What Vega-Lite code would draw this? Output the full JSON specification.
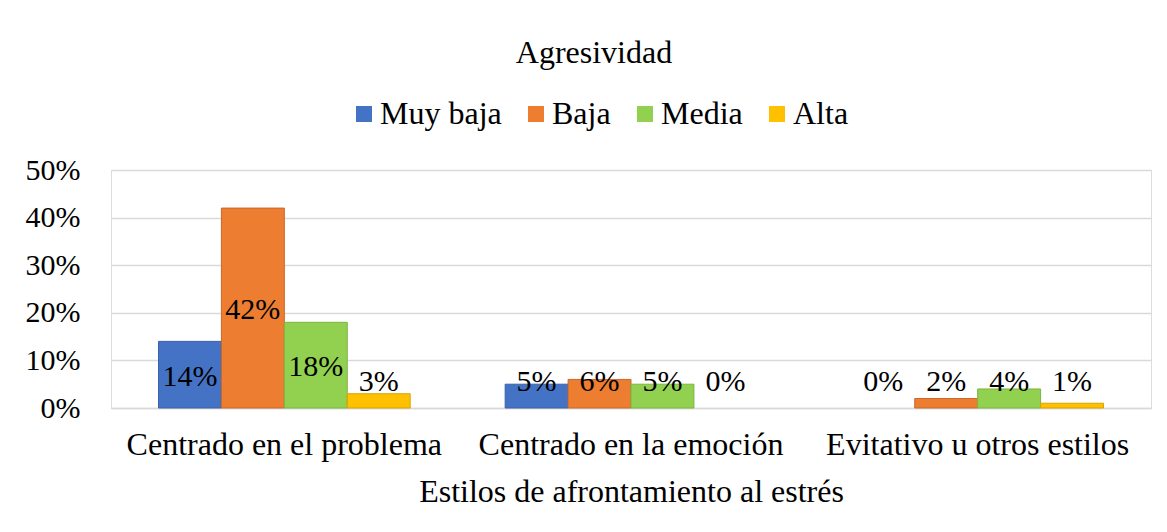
{
  "$schema": "https://vega.github.io/schema/vega-lite/v6.json",
  "width": 1040,
  "height": 238,
  "autosize": {"type": "none"},
  "padding": {"left": 111, "top": 170, "right": 16, "bottom": 124},
  "background": "white",
  "title": {
    "text": "Agresividad",
    "font": "Liberation Serif",
    "fontSize": 32,
    "fontWeight": "normal",
    "color": "#000000",
    "anchor": "middle",
    "frame": "group",
    "dx": -37,
    "offset": 28
  },
  "data": {
    "values": [
      {"estilo": "Centrado en el problema", "nivel": "Muy baja", "valor": 0.14},
      {"estilo": "Centrado en el problema", "nivel": "Baja", "valor": 0.42},
      {"estilo": "Centrado en el problema", "nivel": "Media", "valor": 0.18},
      {"estilo": "Centrado en el problema", "nivel": "Alta", "valor": 0.03},
      {"estilo": "Centrado en la emoción", "nivel": "Muy baja", "valor": 0.05},
      {"estilo": "Centrado en la emoción", "nivel": "Baja", "valor": 0.06},
      {"estilo": "Centrado en la emoción", "nivel": "Media", "valor": 0.05},
      {"estilo": "Centrado en la emoción", "nivel": "Alta", "valor": 0.0},
      {"estilo": "Evitativo u otros estilos", "nivel": "Muy baja", "valor": 0.0},
      {"estilo": "Evitativo u otros estilos", "nivel": "Baja", "valor": 0.02},
      {"estilo": "Evitativo u otros estilos", "nivel": "Media", "valor": 0.04},
      {"estilo": "Evitativo u otros estilos", "nivel": "Alta", "valor": 0.01}
    ]
  },
  "encoding": {
    "x": {
      "field": "estilo",
      "type": "nominal",
      "sort": null,
      "scale": {"paddingInner": 0.274, "paddingOuter": 0.137},
      "axis": {
        "title": "Estilos de afrontamiento al estrés",
        "labelAngle": 0,
        "labelLimit": 0,
        "labelFont": "Liberation Serif",
        "labelFontSize": 32,
        "labelColor": "#000000",
        "labelPadding": 21,
        "titleFont": "Liberation Serif",
        "titleFontSize": 32,
        "titleFontWeight": "normal",
        "titleColor": "#000000",
        "titlePadding": 16,
        "ticks": false,
        "domainColor": "#d9d9d9",
        "domainWidth": 1.5
      }
    },
    "xOffset": {"field": "nivel", "type": "nominal", "sort": ["Muy baja", "Baja", "Media", "Alta"]}
  },
  "layer": [
    {
      "mark": {"type": "bar", "strokeWidth": 1},
      "encoding": {
        "y": {
          "field": "valor",
          "type": "quantitative",
          "scale": {"domain": [0, 0.5], "nice": false},
          "axis": {
            "title": null,
            "format": ".0%",
            "values": [0, 0.1, 0.2, 0.3, 0.4, 0.5],
            "labelFont": "Liberation Serif",
            "labelFontSize": 30,
            "labelColor": "#000000",
            "labelPadding": 31,
            "labelOverlap": false,
            "ticks": false,
            "domain": false,
            "gridColor": "#d9d9d9",
            "gridWidth": 1.5
          }
        },
        "color": {
          "field": "nivel",
          "type": "nominal",
          "sort": ["Muy baja", "Baja", "Media", "Alta"],
          "scale": {"domain": ["Muy baja", "Baja", "Media", "Alta"], "range": ["#4472C4", "#ED7D31", "#92D050", "#FFC000"]},
          "legend": {
            "title": null,
            "orient": "none",
            "direction": "horizontal",
            "legendX": 237,
            "legendY": -72,
            "symbolType": "square",
            "symbolSize": 256,
            "symbolStrokeWidth": 0,
            "symbolOpacity": 1,
            "labelFont": "Liberation Serif",
            "labelFontSize": 32,
            "labelColor": "#000000",
            "labelOffset": 0,
            "columnPadding": 18
          }
        },
        "stroke": {
          "field": "nivel",
          "type": "nominal",
          "scale": {"domain": ["Muy baja", "Baja", "Media", "Alta"], "range": ["#3a62a8", "#c9682a", "#7cb443", "#d9a300"]},
          "legend": null
        },
        "strokeOpacity": {"condition": {"test": "datum.valor === 0", "value": 0}, "value": 1}
      }
    },
    {
      "transform": [{"calculate": "max(datum.valor / 2, 0.058)", "as": "pos"}],
      "mark": {"type": "text", "font": "Liberation Serif", "fontSize": 30, "color": "#000000", "baseline": "middle", "align": "center", "dy": 2},
      "encoding": {
        "y": {
          "field": "pos",
          "type": "quantitative",
          "axis": {
            "title": null,
            "format": ".0%",
            "values": [0, 0.1, 0.2, 0.3, 0.4, 0.5],
            "labelFont": "Liberation Serif",
            "labelFontSize": 30,
            "labelColor": "#000000",
            "labelPadding": 31,
            "labelOverlap": false,
            "ticks": false,
            "domain": false,
            "gridColor": "#d9d9d9",
            "gridWidth": 1.5
          }
        },
        "text": {"field": "valor", "type": "quantitative", "format": ".0%"}
      }
    }
  ]
}
